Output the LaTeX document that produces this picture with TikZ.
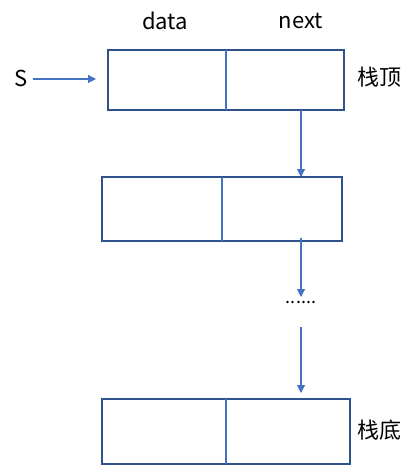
\documentclass[tikz,border=0pt]{standalone}
\usepackage{fontspec}
\setmainfont{Noto Sans CJK SC}
\usetikzlibrary{positioning, arrows.meta, calc}

\definecolor{cellblue}{HTML}{2F528F}
\definecolor{linkblue}{HTML}{4472C4}

\begin{document}
\begin{tikzpicture}[
      x=1pt, y=-1pt,
      node distance=0pt,
      cell/.style={rectangle, draw=cellblue, line width=1.2pt, outer sep=0pt, anchor=north west},
      divider/.style={draw=linkblue, line width=1.2pt},
      link/.style={-{Triangle[length=8pt, width=8pt]}, draw=linkblue, line width=1.1pt},
      label/.style={font=\fontsize{22}{26}\selectfont, inner sep=0pt}
    ]
      \useasboundingbox (0,0) rectangle (418,465);

      % Stack nodes
      \node[cell, minimum width=118pt, minimum height=60pt] (topd) at (108,50) {};
      \node[cell, minimum width=118pt, minimum height=60pt, right=of topd.north east, anchor=north west] (topn) {};
      \node[cell, minimum width=120pt, minimum height=64pt] (midd) at (102,177) {};
      \node[cell, minimum width=120pt, minimum height=64pt, right=of midd.north east, anchor=north west] (midn) {};
      \node[cell, minimum width=124pt, minimum height=65pt] (botd) at (102,399) {};
      \node[cell, minimum width=124pt, minimum height=65pt, right=of botd.north east, anchor=north west] (botn) {};
      \draw[divider] (topd.north east) -- (topd.south east);
      \draw[divider] (midd.north east) -- (midd.south east);
      \draw[divider] (botd.north east) -- (botd.south east);

      % Labels
      \node[label] (data) at (165,21) {data};
      \node[label] (next) at (301,21) {next};
      \node[label] (S) at (21,78) {S};
      \node[label] (top) at (379,77) {栈顶};
      \node[label] (bottom) at (379,430) {栈底};
      \node[label, font=\fontsize{18}{20}\selectfont] (dots) at (301,302) {......};
      \coordinate (gap) at (301,297);

      % Arrows
      \draw[link] ($(S.east |- 0,79)+(5,0)$) -- ($(topd.west |- 0,79)+(-12,0)$);
      \draw[link] ($(topn.south)+(16,0)$) -- ($(topn.south |- midn.north)+(16,0)$);
      \draw[link] ($(midn.south)+(19,-3)$) -- (gap);
      \draw[link] (dots.south |- 0,327) -- ($(dots.south |- botn.north)+(0,-6)$);

    \end{tikzpicture}
\end{document}
